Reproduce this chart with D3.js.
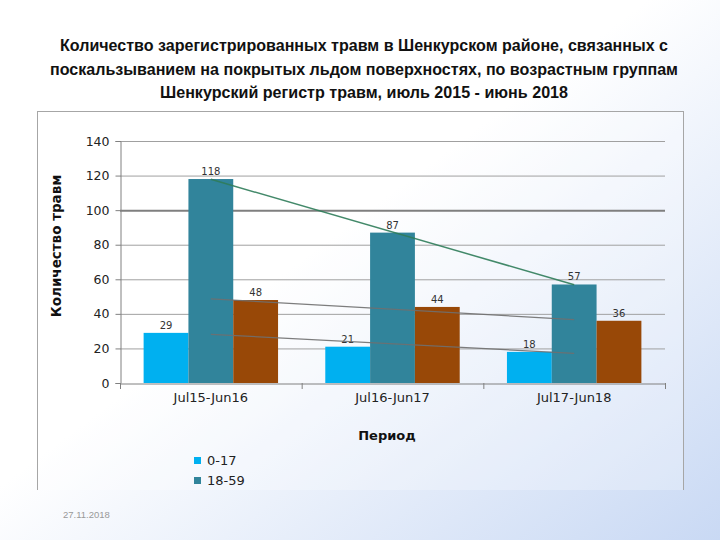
<!DOCTYPE html>
<html><head><meta charset="utf-8">
<script src="https://cdn.jsdelivr.net/npm/d3@7"></script>
<style>body{margin:0;padding:0;}svg{display:block;}</style>
</head><body>
<script>
const titleLines = ["Количество зарегистрированных травм в Шенкурском районе, связанных с",
  "поскальзыванием на покрытых льдом поверхностях, по возрастным группам",
  "Шенкурский регистр травм,  июль 2015 - июнь 2018"];
const titleWidths = [608, 628, 408];
const categories = ["Jul15-Jun16", "Jul16-Jun17", "Jul17-Jun18"];
const seriesNames = ["0-17", "18-59", "Старше(60 лет)"];
const age0_17 = [29, 21, 18];
const age18_59 = [118, 87, 57];
const age60 = [48, 44, 36];
const yTicks = [0, 20, 40, 60, 80, 100, 120, 140];
const colors = ["#00b0f0", "#31849b", "#984807"];
const series = [age0_17, age18_59, age60];

const W = 720, H = 540;
const svg = d3.select("body").append("svg").attr("width", W).attr("height", H);
const defs = svg.append("defs");
const g1 = defs.append("linearGradient").attr("id","bg").attr("x1","0").attr("y1","0").attr("x2","1").attr("y2","1");
g1.append("stop").attr("offset","0.45").attr("stop-color","#ffffff");
g1.append("stop").attr("offset","1").attr("stop-color","#c9d9f4");
svg.append("rect").attr("width",W).attr("height",H).attr("fill","url(#bg)");
defs.append("clipPath").attr("id","cc").append("rect").attr("x",0).attr("y",0).attr("width",W).attr("height",490);

// title
svg.append("g").selectAll("text").data(titleLines).join("text")
  .attr("x", 364).attr("y", (d,i)=>51+i*23.5)
  .attr("text-anchor","middle").attr("font-family","Liberation Sans, Arial")
  .attr("font-weight","bold").attr("font-size",16.5).attr("fill","#111")
  .attr("textLength",(d,i)=>titleWidths[i]).attr("lengthAdjust","spacingAndGlyphs").text(d=>d);

const chart = svg.append("g").attr("clip-path","url(#cc)");
// chart frame
chart.append("rect").attr("x",37.5).attr("y",111.5).attr("width",646).attr("height",400)
  .attr("fill","rgba(255,255,255,0.25)").attr("stroke","#a6a6a6").attr("stroke-width",1);

const x0 = d3.scaleBand().domain(categories).range([120, 665]).paddingInner(0.26).paddingOuter(0.13);
const x1 = d3.scaleBand().domain([0,1,2]).range([0, x0.bandwidth()]);
const y = d3.scaleLinear().domain([0,140]).range([383, 141]);

// gridlines
chart.append("g").selectAll("line").data(yTicks.filter(d=>d>0)).join("line")
  .attr("x1",120).attr("x2",665).attr("y1",d=>y(d)+0.5).attr("y2",d=>y(d)+0.5)
  .attr("stroke",d=>d===100?"#7f7f7f":"#a0a0a0").attr("stroke-width",d=>d===100?2:1);

// y axis
const ya = chart.append("g").attr("transform","translate(120.5,0)")
  .call(d3.axisLeft(y).tickValues(yTicks).tickSize(5).tickPadding(6));
ya.select(".domain").attr("stroke","#808080");
ya.selectAll(".tick line").attr("stroke","#808080");
ya.selectAll("text").attr("font-family","DejaVu Sans, Verdana").attr("font-size",12.5).attr("fill","#222");

// bars
const grp = chart.append("g").selectAll("g").data(categories).join("g")
  .attr("transform", c=>`translate(${x0(c)},0)`);
grp.selectAll("rect").data((c,ci)=>series.map((s,si)=>({si, v:s[ci]}))).join("rect")
  .attr("x", d=>x1(d.si)).attr("width", x1.bandwidth())
  .attr("y", d=>y(d.v)).attr("height", d=>y(0)-y(d.v)).attr("fill", d=>colors[d.si]);

// x axis
const xa = chart.append("g").attr("transform","translate(0,383.5)")
  .call(d3.axisBottom(x0).tickSize(0).tickPadding(9));
xa.select(".domain").attr("stroke","#808080");
xa.selectAll("text").attr("font-family","DejaVu Sans, Verdana").attr("font-size",13).attr("fill","#222");
chart.append("g").selectAll("line").data([0,1,2,3]).join("line")
  .attr("x1",i=>120.5+i*x0.step()).attr("x2",i=>120.5+i*x0.step()).attr("y1",383).attr("y2",389)
  .attr("stroke","#808080");

// trend lines (least squares over category index)
function fit(vals){const n=vals.length;const xs=vals.map((_,i)=>i+1);
  const mx=d3.mean(xs), my=d3.mean(vals);
  const b=d3.sum(xs.map((xv,i)=>(xv-mx)*(vals[i]-my)))/d3.sum(xs.map(xv=>(xv-mx)**2));
  return [my-b*mx+b*1, my-b*mx+b*n];}
const trendColors = ["#707070","#2f7d5a","#707070"];
series.forEach((s,si)=>{
  const [a,b]=fit(s);
  chart.append("line").attr("x1",x0(categories[0])+x0.bandwidth()/2).attr("x2",x0(categories[2])+x0.bandwidth()/2)
    .attr("y1",y(a)).attr("y2",y(b)).attr("stroke",trendColors[si]).attr("stroke-width",si===1?1.5:1.3).attr("opacity",0.9);
});

// labels
grp.selectAll("text").data((c,ci)=>series.map((s,si)=>({si, v:s[ci]}))).join("text")
  .attr("x", d=>x1(d.si)+x1.bandwidth()/2).attr("y", d=>y(d.v)-4)
  .attr("text-anchor","middle").attr("font-family","DejaVu Sans, Verdana").attr("font-size",10).attr("fill","#333")
  .text(d=>d.v);

// axis titles
chart.append("text").attr("transform","translate(61,246) rotate(-90)").attr("text-anchor","middle")
  .attr("font-family","DejaVu Sans, Verdana").attr("font-weight","bold").attr("font-size",13.5).attr("fill","#111")
  .text("Количество травм");
chart.append("text").attr("x",387).attr("y",440).attr("text-anchor","middle")
  .attr("font-family","DejaVu Sans, Verdana").attr("font-weight","bold").attr("font-size",13).attr("fill","#111")
  .text("Период");

// legend (third entry falls below the clipped chart area, as in the reference)
const lg = chart.append("g").selectAll("g").data(seriesNames).join("g")
  .attr("transform",(d,i)=>`translate(194,${457+i*20})`);
lg.append("rect").attr("width",7).attr("height",7).attr("fill",(d,i)=>colors[i]);
lg.append("text").attr("x",13).attr("y",8).attr("font-family","DejaVu Sans, Verdana")
  .attr("font-size",13).attr("fill","#222").text(d=>d);

svg.append("text").attr("x",63).attr("y",518).attr("font-family","Liberation Sans, Arial").attr("font-size",9.5).attr("fill","#999").text("27.11.2018");
</script>
</body></html>
